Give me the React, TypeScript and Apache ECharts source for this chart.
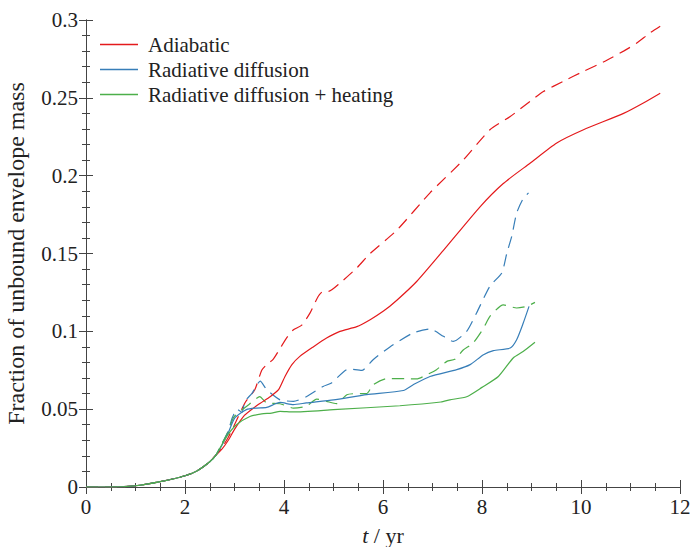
import React, { useEffect, useRef } from "react";
import * as echarts from "echarts";

const seriesNames = ["Adiabatic", "Radiative diffusion", "Radiative diffusion + heating"];
const colors = ["#e41a1c", "#377eb8", "#4daf4a"];
const xTicks = [0, 2, 4, 6, 8, 10, 12];
const yTicks = [0, 0.05, 0.1, 0.15, 0.2, 0.25, 0.3];

const early: number[][] = [[0, 0], [0.5, 0], [1, 0.0008], [1.5, 0.0034], [2, 0.0072], [2.25, 0.0105], [2.5, 0.0162], [2.625, 0.0205]];

const adiabaticSolid: number[][] = [
  ...early, [2.75, 0.0245], [2.875, 0.03], [3.0, 0.037], [3.2, 0.046], [3.48, 0.053], [3.72, 0.058], [3.89, 0.0625], [4.02, 0.071],
  [4.16, 0.0786], [4.32, 0.0839], [4.59, 0.09], [4.86, 0.0957], [5.13, 0.1], [5.47, 0.103], [5.74, 0.1075],
  [6.01, 0.113], [6.28, 0.12], [6.68, 0.132], [7.22, 0.152], [7.96, 0.18], [8.43, 0.195], [8.97, 0.208],
  [9.51, 0.221], [10.05, 0.2295], [10.86, 0.24], [11.26, 0.2467], [11.6, 0.253],
];
const adiabaticDashed: number[][] = [
  ...early, [2.75, 0.0255], [2.875, 0.032], [3.0, 0.04], [3.21, 0.054], [3.41, 0.0625], [3.55, 0.075], [3.65, 0.0786], [3.78, 0.082],
  [3.92, 0.089], [4.05, 0.0957], [4.19, 0.101], [4.36, 0.104], [4.53, 0.112], [4.69, 0.1224], [4.79, 0.1257],
  [4.9, 0.1257], [5.13, 0.131], [5.47, 0.1407], [5.74, 0.15], [6.28, 0.165], [6.95, 0.189], [7.62, 0.21],
  [8.16, 0.2295], [8.57, 0.238], [8.97, 0.2477], [9.24, 0.254], [9.64, 0.2606], [10.05, 0.267], [10.45, 0.273],
  [10.86, 0.28], [11.12, 0.285], [11.39, 0.2916], [11.6, 0.296],
];
const diffusionSolid: number[][] = [
  ...early, [2.75, 0.027], [2.875, 0.035], [3.01, 0.0445], [3.24, 0.0497], [3.45, 0.0507], [3.65, 0.0511], [3.92, 0.0543],
  [4.19, 0.0529], [4.45, 0.054], [5.0, 0.056], [5.67, 0.0593], [6.41, 0.062], [6.61, 0.0657], [6.95, 0.071],
  [7.49, 0.0754], [7.76, 0.0786], [8.03, 0.085], [8.23, 0.0876], [8.57, 0.0893], [8.7, 0.0946], [8.83, 0.105],
  [8.95, 0.116],
];
const diffusionDashed: number[][] = [
  ...early, [2.75, 0.028], [2.875, 0.036], [2.95, 0.044], [3.05, 0.05], [3.15, 0.048], [3.21, 0.055], [3.35, 0.06], [3.52, 0.068],
  [3.65, 0.0625], [3.92, 0.056], [4.19, 0.055], [4.45, 0.058], [4.79, 0.0646], [4.96, 0.0668], [5.3, 0.0758],
  [5.57, 0.0749], [5.8, 0.0818], [6.14, 0.09], [6.61, 0.099], [6.95, 0.1015], [7.22, 0.0968], [7.42, 0.0935],
  [7.69, 0.1], [7.89, 0.1118], [8.16, 0.129], [8.4, 0.1375], [8.5, 0.15], [8.6, 0.161], [8.7, 0.176],
  [8.82, 0.1846], [8.94, 0.189],
];
const heatingSolid: number[][] = [
  ...early, [2.75, 0.0275], [2.875, 0.034], [3.04, 0.04], [3.31, 0.0453], [3.55, 0.047], [3.75, 0.0475], [3.92, 0.0486],
  [4.19, 0.0482], [5.0, 0.0497], [6.34, 0.0522], [7.17, 0.0546], [7.35, 0.056], [7.69, 0.058], [8.0, 0.064],
  [8.33, 0.071], [8.63, 0.0829], [8.83, 0.087], [9.07, 0.093],
];
const heatingDashed: number[][] = [
  ...early, [2.75, 0.028], [2.875, 0.036], [2.99, 0.045], [3.31, 0.0535], [3.51, 0.058], [3.65, 0.054], [3.92, 0.0535],
  [4.19, 0.0507], [4.45, 0.0518], [4.66, 0.0565], [4.86, 0.055], [5.06, 0.0535], [5.27, 0.0593], [5.47, 0.06],
  [5.67, 0.06], [5.8, 0.0657], [6.07, 0.0696], [6.48, 0.0696], [6.68, 0.0694], [6.88, 0.072], [7.08, 0.0754],
  [7.29, 0.0807], [7.45, 0.082], [7.62, 0.088], [7.82, 0.0925], [8.03, 0.102], [8.16, 0.1096], [8.43, 0.117],
  [8.7, 0.115], [8.9, 0.116], [9.07, 0.1186],
];

const FONT = "Liberation Serif";

export default function App() {
  const ref = useRef<HTMLDivElement>(null);
  useEffect(() => {
    if (!ref.current) return;
    const chart = echarts.init(ref.current, undefined, { renderer: "svg" });
    const axisColor = "#444";
    const label = { fontFamily: FONT, fontSize: 21, color: "#222" };
    const mkX = (pos: "bottom" | "top", labels: boolean) => ({
      type: "value",
      position: pos,
      min: xTicks[0],
      max: xTicks[xTicks.length - 1],
      interval: 2,
      axisLine: { show: true, lineStyle: { color: axisColor, width: 1 } },
      axisTick: { show: true, inside: true, length: 7, lineStyle: { color: axisColor } },
      minorTick: { show: true, splitNumber: 4, length: 4, lineStyle: { color: axisColor } },
      splitLine: { show: false },
      axisLabel: { show: labels, margin: 9, ...label },
      name: labels ? "{i|t} / yr" : "",
      nameLocation: "middle",
      nameGap: 37,
      nameTextStyle: {
        fontFamily: FONT, fontSize: 22, color: "#222",
        rich: { i: { fontFamily: FONT, fontSize: 22, fontStyle: "italic", color: "#222" } },
      },
    });
    const mkY = (pos: "left" | "right", labels: boolean) => ({
      type: "value",
      position: pos,
      min: yTicks[0],
      max: yTicks[yTicks.length - 1],
      interval: 0.05,
      axisLine: { show: true, lineStyle: { color: axisColor, width: 1 } },
      axisTick: { show: true, inside: true, length: 7, lineStyle: { color: axisColor } },
      minorTick: { show: true, splitNumber: 5, length: 4, lineStyle: { color: axisColor } },
      splitLine: { show: false },
      axisLabel: {
        show: labels, margin: 8, ...label,
        formatter: (v: number) => String(parseFloat(v.toFixed(2))),
      },
      name: labels ? "Fraction of unbound envelope mass" : "",
      nameLocation: "middle",
      nameGap: 58,
      nameTextStyle: { fontFamily: FONT, fontSize: 24, color: "#222" },
    });
    const mkSeries = (name: string, data: number[][], color: string, dashed: boolean) => ({
      type: "line",
      name,
      data,
      xAxisIndex: 0,
      yAxisIndex: 0,
      symbol: "none",
      smooth: 0.2,
      lineStyle: { color, width: 1.2, type: dashed ? [12, 7] : "solid" },
      itemStyle: { color },
      z: dashed ? 2 : 3,
    });
    chart.setOption({
      animation: false,
      grid: { left: 86, right: 12, top: 20, bottom: 60, containLabel: false, outerBoundsMode: "none" },
      xAxis: [mkX("bottom", true), mkX("top", false)],
      yAxis: [mkY("left", true), mkY("right", false)],
      legend: {
        data: seriesNames,
        orient: "vertical",
        left: 100,
        top: 34,
        padding: 0,
        icon: "rect",
        itemWidth: 38,
        itemHeight: 1.3,
        itemGap: 4,
        textStyle: { fontFamily: FONT, fontSize: 21, color: "#222", padding: [0, 0, 0, 5] },
        selectedMode: false,
      },
      series: [
        mkSeries(seriesNames[0], adiabaticSolid, colors[0], false),
        mkSeries(seriesNames[1], diffusionSolid, colors[1], false),
        mkSeries(seriesNames[2], heatingSolid, colors[2], false),
        mkSeries(seriesNames[0] + " (dashed)", adiabaticDashed, colors[0], true),
        mkSeries(seriesNames[1] + " (dashed)", diffusionDashed, colors[1], true),
        mkSeries(seriesNames[2] + " (dashed)", heatingDashed, colors[2], true),
      ],
    });
    return () => chart.dispose();
  }, []);
  return (
    <div
      ref={ref}
      style={{ position: "fixed", left: 0, top: 0, width: 692, height: 547, background: "#fff" }}
    />
  );
}
